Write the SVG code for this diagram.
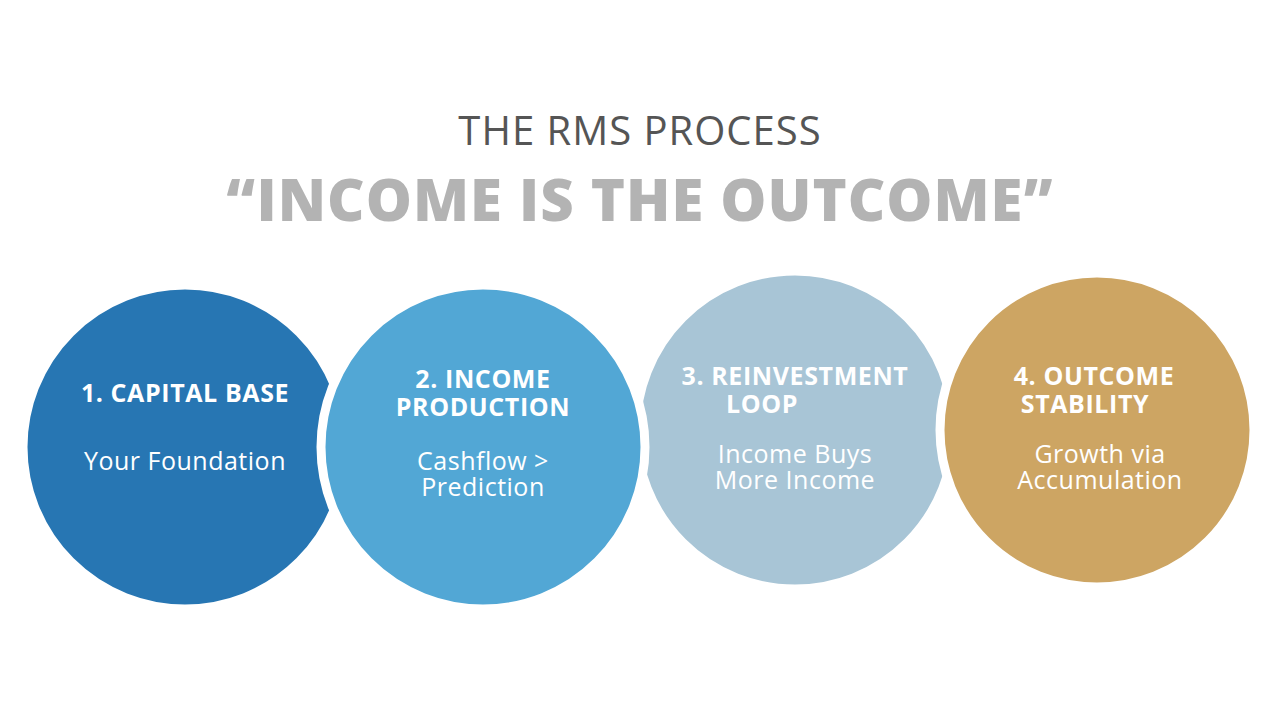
<svg xmlns="http://www.w3.org/2000/svg" width="1280" height="720" viewBox="0 0 1280 720">
<style>
.c{stroke:#fff;stroke-width:9}
.h{font-family:"Open Sans","Liberation Sans",sans-serif;font-weight:700;font-size:25px;letter-spacing:0.6px;fill:#fff;text-anchor:middle}
.s{font-family:"Open Sans","Liberation Sans",sans-serif;font-size:25px;letter-spacing:0.5px;fill:#fff;text-anchor:middle}
</style>
<rect width="1280" height="720" fill="#fff"/>
<text x="640" y="145" text-anchor="middle" font-family="Open Sans, Liberation Sans, sans-serif" font-size="40" letter-spacing="1" fill="#555">THE RMS PROCESS</text>
<text x="640" y="221" text-anchor="middle" font-family="Open Sans, Liberation Sans, sans-serif" font-weight="800" font-size="58" letter-spacing="1" fill="#B3B3B3">“INCOME IS THE OUTCOME”</text>
<g id="node1"><circle class="c" cx="185" cy="447" r="162" fill="#2776B3"/>
<text class="h" x="185" y="402">1. CAPITAL BASE</text><text class="s" x="185" y="470">Your Foundation</text></g>
<g id="node3"><circle class="c" cx="795" cy="430" r="159" fill="#A8C5D6"/>
<text class="h" x="795" y="385">3. REINVESTMENT</text><text class="h" x="762" y="413">LOOP</text>
<text class="s" x="795" y="463">Income Buys</text><text class="s" x="795" y="489">More Income</text></g>
<g id="node2"><circle class="c" cx="483" cy="447" r="162" fill="#52A7D5"/>
<text class="h" x="483" y="388">2. INCOME</text><text class="h" x="483" y="416">PRODUCTION</text>
<text class="s" x="483" y="470">Cashflow &gt;</text><text class="s" x="483" y="496">Prediction</text></g>
<g id="node4"><circle class="c" cx="1097" cy="430" r="157" fill="#CDA563"/>
<text class="h" x="1094" y="385">4. OUTCOME</text><text class="h" x="1085" y="413">STABILITY</text>
<text class="s" x="1100" y="463">Growth via</text><text class="s" x="1100" y="489">Accumulation</text></g>
<g id="connectors"/>
</svg>
